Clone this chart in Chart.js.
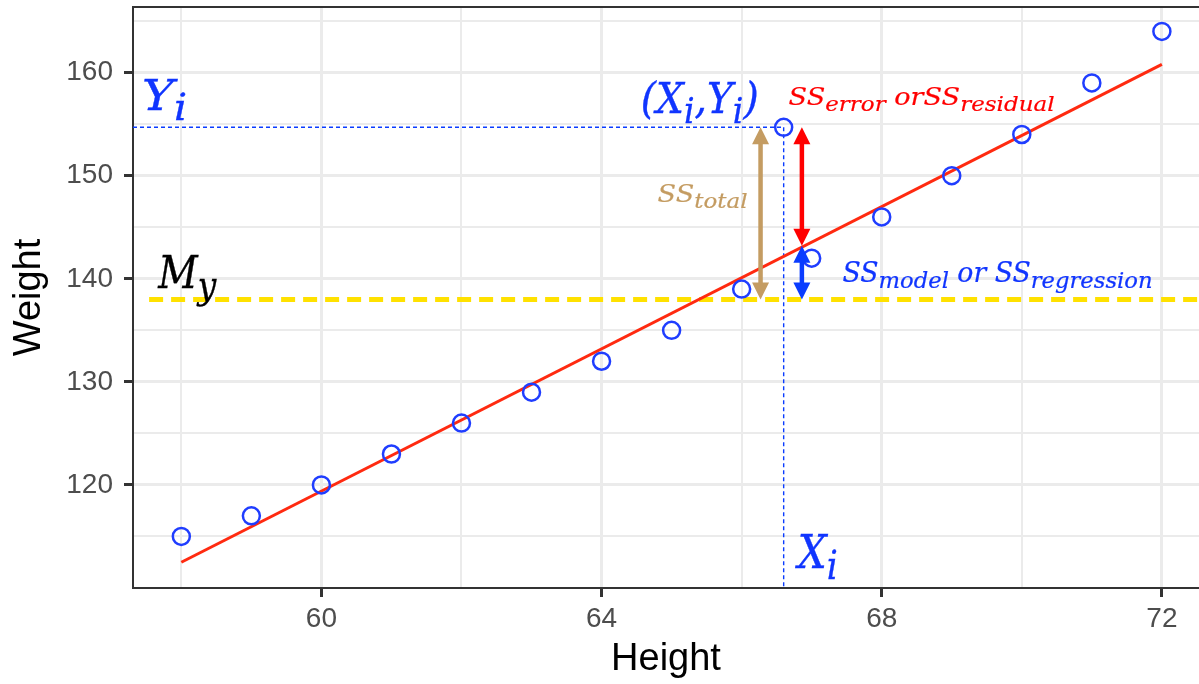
<!DOCTYPE html>
<html>
<head>
<meta charset="utf-8">
<script src="https://cdn.jsdelivr.net/npm/chart.js@4.4.0/dist/chart.umd.min.js"></script>
<style>
html, body { margin: 0; padding: 0; background: #fff; overflow: hidden; }
</style>
</head>
<body>
<canvas id="canvas" width="1199" height="684"></canvas>
<script>
// data
var heights = [58, 59, 60, 61, 62, 63, 64, 65, 66, 67, 68, 69, 70, 71, 72];
var weights = [115, 117, 120, 123, 126, 129, 132, 135, 139, 142, 146, 150, 154, 159, 164];
var markedPoint = [66.6, 154.7];          // (Xi, Yi)
var fitX = [58, 72];
var fitY = [112.5, 160.8];
var meanX = [57.54, 72.7];
var meanY = [138, 138];

// axes
var xRange = [57.31, 72.53];
var yRange = [110.0, 166.37];
var xTicks = [58, 60, 62, 64, 66, 68, 70, 72];
var xLabels = [60, 64, 68, 72];
var yTicks = [115, 120, 125, 130, 135, 140, 145, 150, 155, 160, 165];
var yLabels = [120, 130, 140, 150, 160];

// arrows: x, top, bottom
var arrowX = [66.27, 66.86, 66.86];
var arrowTop = [154.7, 154.7, 143.2];
var arrowBottom = [138.0, 143.2, 138.0];
var arrowColor = ['#c49c62', '#ff0000', '#0a3cff'];

// math labels: parts [text, isSubscript], anchored at (x, baseline y)
var labelParts = [
    [['Y', 0], ['i', 1]],
    [['(', 0], ['X', 0], ['i', 1], [',', 0], ['Y', 0], ['i', 1], [')', 0]],
    [['SS', 0], ['error', 1], [' or', 0], ['SS', 0], ['residual', 1]],
    [['SS', 0], ['total', 1]],
    [['M', 0], ['y', 1]],
    [['SS', 0], ['model', 1], [' or ', 0], ['SS', 0], ['regression', 1]],
    [['X', 0], ['i', 1]]
];
var labelX = [57.44, 64.56, 66.67, 64.8, 57.67, 67.44, 66.8];
var labelY = [156.38, 156.09, 156.87, 147.46, 139.12, 139.7, 111.96];
var labelStyle = [
    {size: 43, width: 45, color: '#1035ff'},
    {size: 42, width: 118, color: '#1035ff'},
    {size: 25, width: 266, color: '#ff0000'},
    {size: 25, width: 90, color: '#c49c62'},
    {size: 44, width: 58, color: '#000000'},
    {size: 27, width: 310, color: '#1035ff'},
    {size: 46, width: 40, color: '#1035ff'}
];

var blue = '#1f3dff';

function mathFont(size) {
    return 'italic ' + size + 'px "DejaVu Serif"';
}

function drawMath(ctx, parts, x, y, st) {
    var sub = st.size * 0.85;
    var natural = 0;
    parts.forEach(function(p) {
        ctx.font = mathFont(p[1] ? sub : st.size);
        natural += ctx.measureText(p[0]).width;
    });
    ctx.save();
    ctx.translate(x, y);
    ctx.scale(st.width / natural, 1);
    ctx.fillStyle = st.color;
    ctx.strokeStyle = st.color;
    ctx.lineWidth = st.size / 120;
    ctx.textBaseline = 'alphabetic';
    ctx.textAlign = 'left';
    var cx = 0;
    parts.forEach(function(p) {
        var dy = p[1] ? st.size * 0.24 : 0;
        ctx.font = mathFont(p[1] ? sub : st.size);
        ctx.fillText(p[0], cx, dy);
        ctx.strokeText(p[0], cx, dy);
        cx += ctx.measureText(p[0]).width;
    });
    ctx.restore();
}

function drawArrow(ctx, x, y1, y2, color) {
    var head = 17, half = 8.5;
    ctx.save();
    ctx.strokeStyle = color;
    ctx.fillStyle = color;
    ctx.lineWidth = 4.5;
    ctx.beginPath();
    ctx.moveTo(x, y1 + head - 2);
    ctx.lineTo(x, y2 - head + 2);
    ctx.stroke();
    ctx.beginPath();
    ctx.moveTo(x, y1);
    ctx.lineTo(x - half, y1 + head);
    ctx.lineTo(x + half, y1 + head);
    ctx.closePath();
    ctx.fill();
    ctx.beginPath();
    ctx.moveTo(x, y2);
    ctx.lineTo(x - half, y2 - head);
    ctx.lineTo(x + half, y2 - head);
    ctx.closePath();
    ctx.fill();
    ctx.restore();
}

var topBorder = {
    id: 'topBorder',
    beforeDatasetsDraw: function(chart) {
        var a = chart.chartArea, ctx = chart.ctx;
        ctx.save();
        ctx.strokeStyle = '#333333';
        ctx.lineWidth = 2;
        ctx.beginPath();
        ctx.moveTo(a.left, a.top);
        ctx.lineTo(a.right, a.top);
        ctx.stroke();
        ctx.restore();
    }
};

var overlays = {
    id: 'overlays',
    afterDatasetsDraw: function(chart) {
        var ctx = chart.ctx, xs = chart.scales.x, ys = chart.scales.y;
        for (var i = 0; i < arrowX.length; i++) {
            drawArrow(ctx, xs.getPixelForValue(arrowX[i]), ys.getPixelForValue(arrowTop[i]),
                ys.getPixelForValue(arrowBottom[i]), arrowColor[i]);
        }
        for (var j = 0; j < labelParts.length; j++) {
            drawMath(ctx, labelParts[j], xs.getPixelForValue(labelX[j]), ys.getPixelForValue(labelY[j]), labelStyle[j]);
        }
    }
};

function gridWidth(labels) {
    return function(c) { return c.tick && labels.indexOf(c.tick.value) >= 0 ? 3 : 2; };
}
function tickColor(labels) {
    return function(c) { return c.tick && labels.indexOf(c.tick.value) >= 0 ? '#333333' : 'rgba(0,0,0,0)'; };
}
// labels never push the plot area in; the panel fills the canvas like the ggplot original
function noLabelPadding(scale) {
    scale._calculatePadding = function() {
        this.paddingLeft = this.paddingRight = this.paddingTop = this.paddingBottom = 0;
    };
}

function renderGraph() {
    var ctx = document.getElementById('canvas').getContext('2d');

    var points = heights.map(function(h, i) { return {x: h, y: weights[i]}; });

    var data = {
        datasets: [{
            data: points,
            borderColor: blue,
            backgroundColor: 'rgba(0,0,0,0)',
            borderWidth: 2.5,
            pointRadius: 8.5
        }, {
            data: [{x: markedPoint[0], y: markedPoint[1]}],
            borderColor: blue,
            backgroundColor: 'rgba(0,0,0,0)',
            borderWidth: 2.5,
            pointRadius: 8.5
        }, {
            data: fitX.map(function(x, i) { return {x: x, y: fitY[i]}; }),
            showLine: true,
            borderColor: '#ff2a10',
            borderWidth: 3,
            pointRadius: 0
        }, {
            data: meanX.map(function(x, i) { return {x: x, y: meanY[i]}; }),
            showLine: true,
            borderColor: '#ffe100',
            borderWidth: 5,
            borderDash: [14, 8],
            pointRadius: 0
        }, {
            data: [{x: xRange[0], y: markedPoint[1]}, {x: markedPoint[0], y: markedPoint[1]}],
            showLine: true,
            borderColor: '#0a3cff',
            borderWidth: 1.4,
            borderDash: [4, 3],
            pointRadius: 0
        }, {
            data: [{x: markedPoint[0], y: markedPoint[1]}, {x: markedPoint[0], y: yRange[0]}],
            showLine: true,
            borderColor: '#0a3cff',
            borderWidth: 1.4,
            borderDash: [4, 3],
            pointRadius: 0
        }]
    };

    var options = {
        responsive: false,
        animation: false,
        events: [],
        layout: {autoPadding: false, padding: {left: 0, top: 7, right: 0, bottom: 0}},
        plugins: {legend: {display: false}, tooltip: {enabled: false}},
        scales: {
            x: {
                type: 'linear',
                min: xRange[0],
                max: xRange[1],
                afterBuildTicks: function(scale) {
                    scale.ticks = xTicks.map(function(v) { return {value: v}; });
                },
                beforeFit: noLabelPadding,
                afterFit: function(scale) { scale.height = 96; },
                grid: {
                    color: '#ebebeb',
                    lineWidth: gridWidth(xLabels),
                    tickColor: tickColor(xLabels),
                    tickWidth: 3,
                    tickLength: 9
                },
                border: {color: '#333333', width: 2},
                ticks: {
                    autoSkip: false,
                    maxRotation: 0,
                    padding: 5,
                    color: '#4d4d4d',
                    font: {family: '"Liberation Sans", Arial, sans-serif', size: 28},
                    callback: function(v) { return xLabels.indexOf(v) >= 0 ? String(v) : ''; }
                },
                title: {
                    display: true,
                    text: 'Height',
                    color: '#000000',
                    padding: {top: 0, bottom: 1.5},
                    font: {family: '"Liberation Sans", Arial, sans-serif', size: 38}
                }
            },
            y: {
                type: 'linear',
                min: yRange[0],
                max: yRange[1],
                afterBuildTicks: function(scale) {
                    scale.ticks = yTicks.map(function(v) { return {value: v}; });
                },
                beforeFit: noLabelPadding,
                afterFit: function(scale) { scale.width = 133; },
                grid: {
                    color: '#ebebeb',
                    lineWidth: gridWidth(yLabels),
                    tickColor: tickColor(yLabels),
                    tickWidth: 3,
                    tickLength: 9
                },
                border: {color: '#333333', width: 2},
                ticks: {
                    autoSkip: false,
                    padding: 11,
                    color: '#4d4d4d',
                    font: {family: '"Liberation Sans", Arial, sans-serif', size: 28},
                    callback: function(v) { return yLabels.indexOf(v) >= 0 ? String(v) : ''; }
                },
                title: {
                    display: true,
                    text: 'Weight',
                    color: '#000000',
                    padding: {top: 7, bottom: 0},
                    font: {family: '"Liberation Sans", Arial, sans-serif', size: 38}
                }
            }
        }
    };

    new Chart(ctx, {
        type: 'scatter',
        data: data,
        options: options,
        plugins: [topBorder, overlays]
    });
}

renderGraph();
</script>
</body>
</html>
